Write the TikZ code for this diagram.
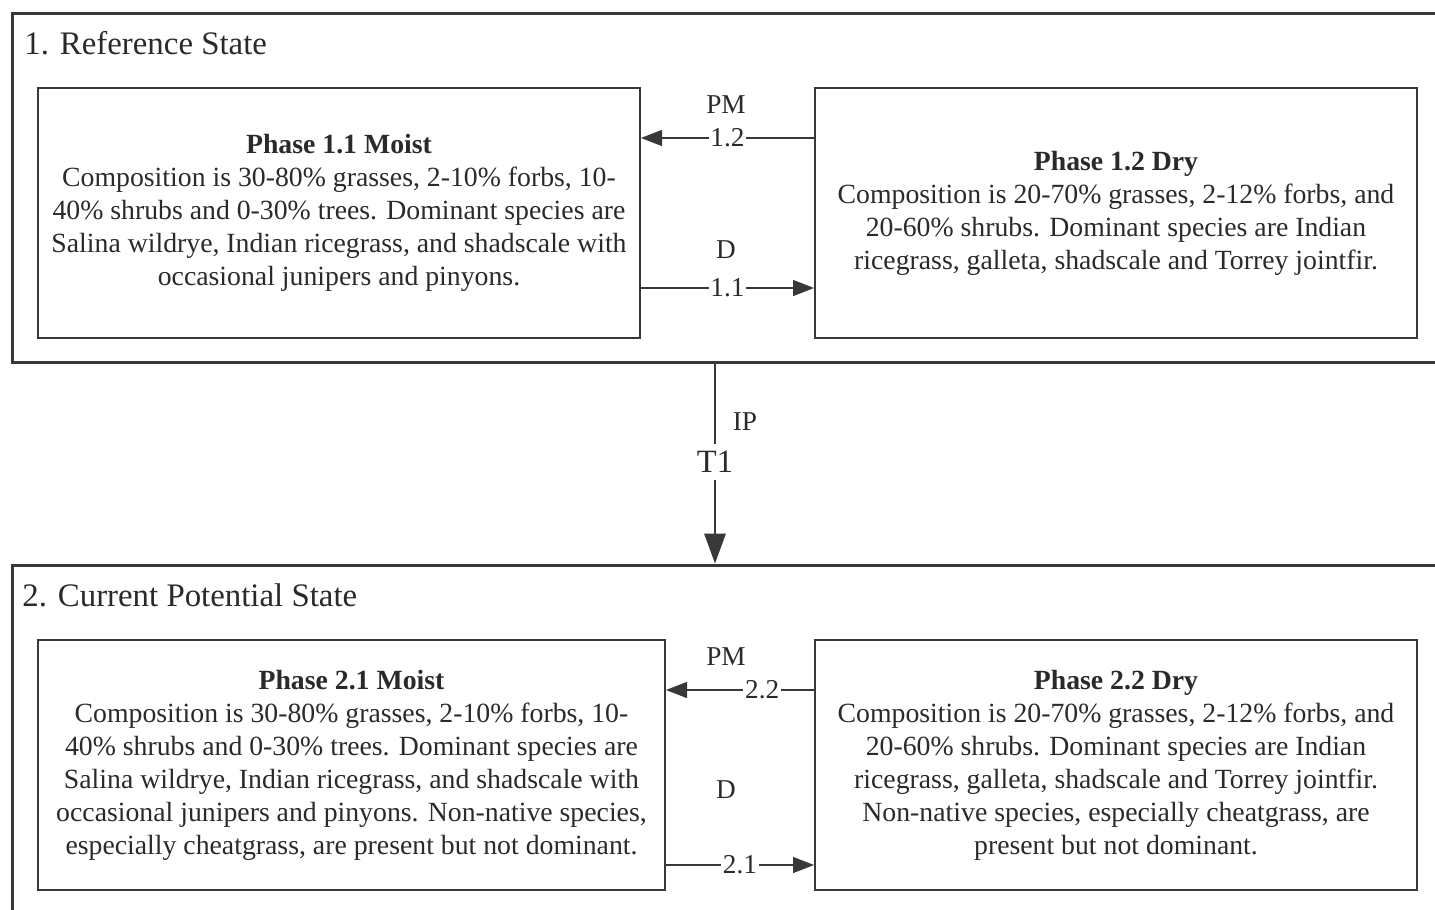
\documentclass[tikz,border=0pt]{standalone}
\usepackage{fontspec}
\setmainfont{Liberation Serif}
\usetikzlibrary{arrows.meta,positioning,calc}
\definecolor{sink}{HTML}{2A2A2A}
\definecolor{sline}{HTML}{383838}
\tikzset{
  statebox/.style={draw=sline,line width=1.7pt,minimum width=28.66cm,inner sep=0pt},
  phase/.style={draw=sline,line width=1.1pt,minimum height=5cm,align=center,text=sink,font=\fontsize{15.8}{18.8}\selectfont,inner sep=2pt},
  stitle/.style={anchor=west,text=sink,font=\fontsize{18.7}{22}\selectfont,inner sep=0pt},
  arr/.style={-{Triangle[length=12pt,width=9pt]},line width=1.1pt,draw=sline},
  bigarr/.style={-{Triangle[length=17pt,width=12pt]},line width=1.5pt,draw=sline},
  lab/.style={fill=white,inner sep=1pt,text=sink,font=\fontsize{15.5}{18}\selectfont},
  drv/.style={text=sink,font=\fontsize{15.5}{18}\selectfont,inner sep=0pt},
}
\begin{document}
\begin{tikzpicture}[x=0.02cm,y=-0.02cm]
  \clip (0,0) rectangle (1435,909);
  % states
  \node[statebox,minimum height=7cm] (st1) at (728.5,188) {};
  \node[statebox,minimum height=7.2cm] (st2) at (728.5,745) {};
  \node[stitle] (t1) at (24,43) {1. Reference State};
  \node[stitle] (t2) at (22,595) {2. Current Potential State};
  % phases
  \node[phase,minimum width=12.04cm] (p11) at (339,213) {\textbf{Phase 1.1 Moist}\\
    Composition is 30-80\% grasses, 2-10\% forbs, 10-\\
    40\% shrubs and 0-30\% trees. Dominant species are\\
    Salina wildrye, Indian ricegrass, and shadscale with\\
    occasional junipers and pinyons.};
  \node[phase,minimum width=12.04cm] (p12) at (1116,213) {\textbf{Phase 1.2 Dry}\\
    Composition is 20-70\% grasses, 2-12\% forbs, and\\
    20-60\% shrubs. Dominant species are Indian\\
    ricegrass, galleta, shadscale and Torrey jointfir.};
  \node[phase,minimum width=12.54cm] (p21) at (351.5,765) {\textbf{Phase 2.1 Moist}\\
    Composition is 30-80\% grasses, 2-10\% forbs, 10-\\
    40\% shrubs and 0-30\% trees. Dominant species are\\
    Salina wildrye, Indian ricegrass, and shadscale with\\
    occasional junipers and pinyons. Non-native species,\\
    especially cheatgrass, are present but not dominant.};
  \node[phase,minimum width=12.04cm] (p22) at (1116,765) {\textbf{Phase 2.2 Dry}\\
    Composition is 20-70\% grasses, 2-12\% forbs, and\\
    20-60\% shrubs. Dominant species are Indian\\
    ricegrass, galleta, shadscale and Torrey jointfir.\\
    Non-native species, especially cheatgrass, are\\
    present but not dominant.};
  % pathways
  \node[drv] (pm1) at (726,105) {PM};
  \node[drv] (d1) at (726,250) {D};
  \node[drv] (pm2) at (726,657) {PM};
  \node[drv] (d2) at (726,790) {D};
  \draw[arr] (p12.west |- 0,138) -- node[lab]{1.2} (p11.east |- 0,138);
  \draw[arr] (p11.east |- 0,288) -- node[lab]{1.1} (p12.west |- 0,288);
  \draw[arr] (p22.west |- 0,690) -- node[lab,pos=0.35]{2.2} (p21.east |- 0,690);
  \draw[arr] (p21.east |- 0,865) -- node[lab]{2.1} (p22.west |- 0,865);
  % transition
  \coordinate (tx) at (715,0);
  \node[lab,font=\fontsize{18.5}{22}\selectfont,inner sep=4pt] (T1) at (715,462) {T1};
  \node[drv] (ip) at (745,422) {IP};
  \draw[bigarr] (st1.south -| tx) -- (T1) -- (st2.north -| tx);
\end{tikzpicture}
\end{document}
